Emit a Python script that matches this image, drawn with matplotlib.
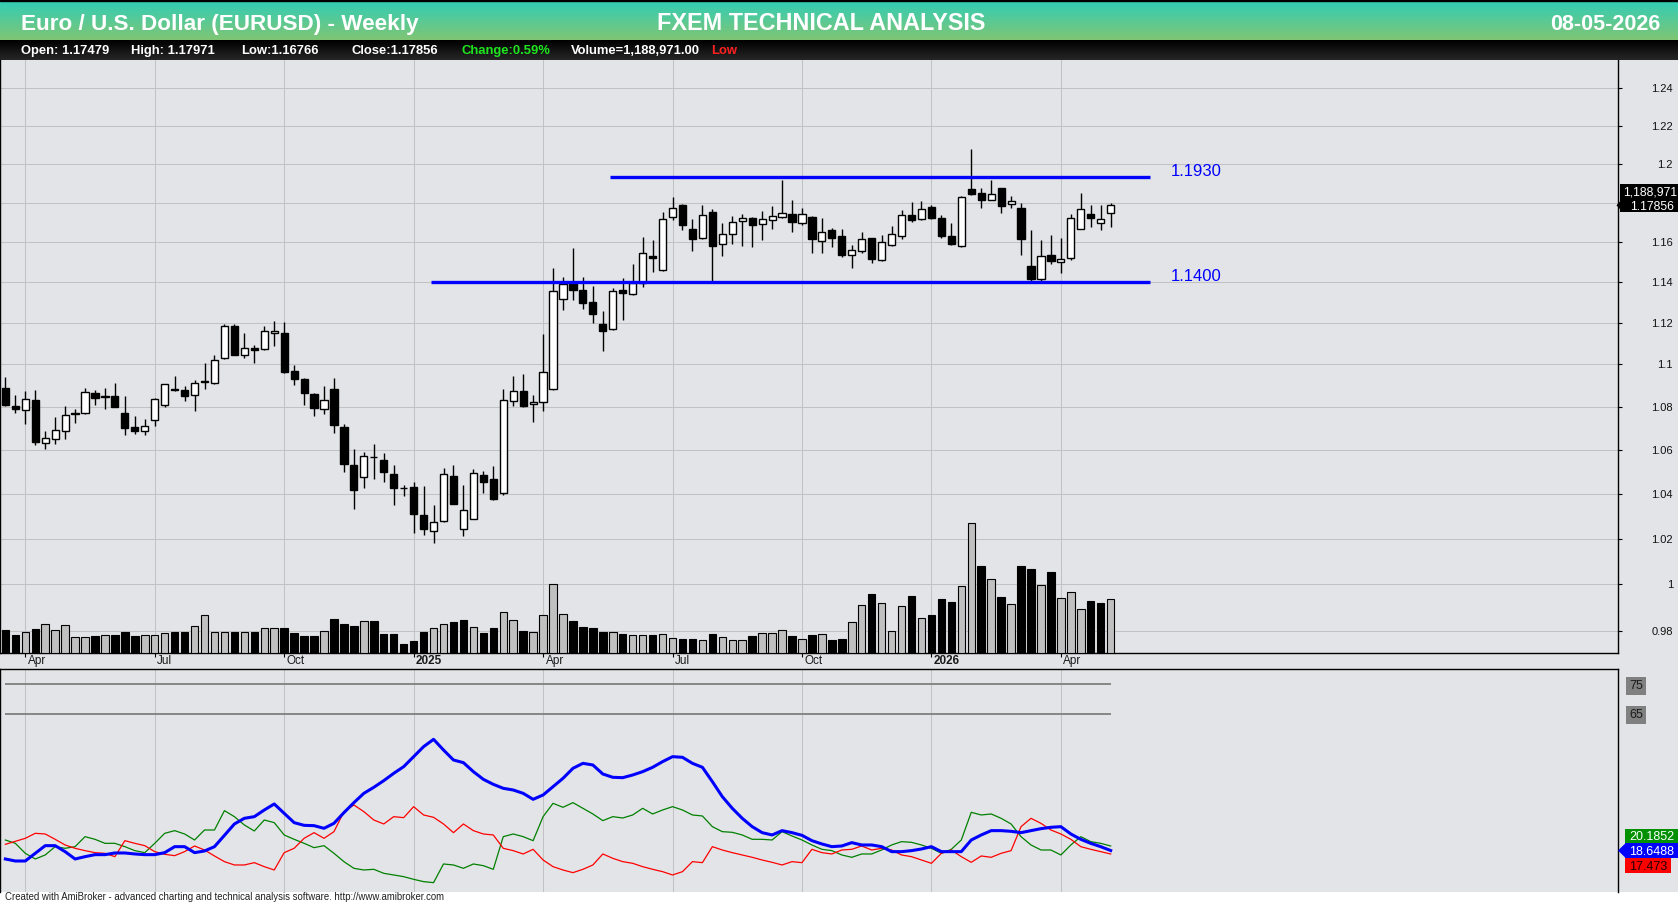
import numpy as np
import pandas as pd
import matplotlib
matplotlib.use("Agg")
import matplotlib.pyplot as plt
from matplotlib.patches import Rectangle, Polygon
from matplotlib.ticker import NullLocator

plt.rcParams['font.family'] = ['Liberation Sans', 'DejaVu Sans']

# ---- data (weekly EURUSD bars, week ending Friday) ----
symbol_title = "Euro / U.S. Dollar (EURUSD) - Weekly"
brand_title = "FXEM TECHNICAL ANALYSIS"
chart_date = "08-05-2026"
first_week = "2024-03-22"

opens = [1.0890, 1.0805, 1.0786, 1.0833, 1.0633, 1.0651, 1.0688, 1.0770, 1.0771, 1.0867,
         1.0849, 1.0849, 1.0769, 1.0704, 1.0688, 1.0740, 1.0807, 1.0885, 1.0881, 1.0856,
         1.0920, 1.0914, 1.1029, 1.1186, 1.1043, 1.1081, 1.1075, 1.1152, 1.1152, 1.0967,
         1.0930, 1.0862, 1.0788, 1.0882, 1.0708, 1.0530, 1.0476, 1.0566, 1.0556, 1.0489,
         1.0428, 1.0431, 1.0305, 1.0236, 1.0280, 1.0480, 1.0241, 1.0289, 1.0484, 1.0467,
         1.0404, 1.0827, 1.0875, 1.0813, 1.0822, 1.0885, 1.1316, 1.1393, 1.1359, 1.1300,
         1.1197, 1.1170, 1.1359, 1.1339, 1.1393, 1.1530, 1.1460, 1.1728, 1.1785, 1.1666,
         1.1619, 1.1753, 1.1589, 1.1640, 1.1707, 1.1722, 1.1691, 1.1712, 1.1728, 1.1743,
         1.1697, 1.1724, 1.1603, 1.1662, 1.1629, 1.1535, 1.1554, 1.1619, 1.1511, 1.1584,
         1.1628, 1.1738, 1.1716, 1.1776, 1.1722, 1.1629, 1.1578, 1.1867, 1.1851, 1.1815,
         1.1872, 1.1790, 1.1774, 1.1481, 1.1415, 1.1536, 1.1502, 1.1520, 1.1666, 1.1740,
         1.1697, 1.17479]
highs = [1.0938, 1.0857, 1.0873, 1.0881, 1.0685, 1.0750, 1.0805, 1.0788, 1.0890, 1.0881,
         1.0887, 1.0911, 1.0849, 1.0755, 1.0741, 1.0841, 1.0908, 1.0944, 1.0900, 1.0924,
         1.1006, 1.1043, 1.1195, 1.1195, 1.1152, 1.1095, 1.1186, 1.1210, 1.1205, 1.0997,
         1.0936, 1.0867, 1.0899, 1.0934, 1.0722, 1.0605, 1.0591, 1.0625, 1.0588, 1.0530,
         1.0440, 1.0455, 1.0436, 1.0350, 1.0516, 1.0529, 1.0440, 1.0511, 1.0504, 1.0526,
         1.0885, 1.0944, 1.0954, 1.0853, 1.1144, 1.1470, 1.1423, 1.1569, 1.1423, 1.1379,
         1.1259, 1.1370, 1.1420, 1.1490, 1.1624, 1.1612, 1.1750, 1.1826, 1.1791, 1.1717,
         1.1785, 1.1766, 1.1698, 1.1729, 1.1740, 1.1724, 1.1757, 1.1783, 1.1915, 1.1815,
         1.1774, 1.1729, 1.1722, 1.1671, 1.1666, 1.1585, 1.1652, 1.1621, 1.1636, 1.1678,
         1.1760, 1.1803, 1.1807, 1.1786, 1.1738, 1.1695, 1.1832, 1.2077, 1.1872, 1.1915,
         1.1874, 1.1832, 1.1797, 1.1662, 1.1610, 1.1636, 1.1621, 1.1740, 1.1848, 1.1788,
         1.1786, 1.17971]
lows = [1.0802, 1.0770, 1.0722, 1.0623, 1.0603, 1.0626, 1.0650, 1.0724, 1.0764, 1.0808,
        1.0789, 1.0798, 1.0668, 1.0674, 1.0668, 1.0711, 1.0800, 1.0875, 1.0827, 1.0779,
        1.0884, 1.0905, 1.1025, 1.1045, 1.1032, 1.1008, 1.1070, 1.1089, 1.0959, 1.0903,
        1.0810, 1.0758, 1.0768, 1.0680, 1.0499, 1.0333, 1.0428, 1.0465, 1.0455, 1.0348,
        1.0389, 1.0226, 1.0217, 1.0180, 1.0273, 1.0353, 1.0211, 1.0287, 1.0406, 1.0371,
        1.0395, 1.0806, 1.0798, 1.0730, 1.0778, 1.0880, 1.1265, 1.1311, 1.1269, 1.1200,
        1.1066, 1.1165, 1.1215, 1.1336, 1.1376, 1.1452, 1.1455, 1.1712, 1.1662, 1.1557,
        1.1615, 1.1398, 1.1528, 1.1592, 1.1582, 1.1574, 1.1612, 1.1664, 1.1722, 1.1648,
        1.1685, 1.1543, 1.1543, 1.1576, 1.1524, 1.1470, 1.1543, 1.1494, 1.1504, 1.1582,
        1.1617, 1.1703, 1.1709, 1.1717, 1.1619, 1.1585, 1.1576, 1.1841, 1.1772, 1.1813,
        1.1747, 1.1772, 1.1533, 1.1400, 1.1405, 1.1489, 1.1446, 1.1510, 1.1665, 1.1674,
        1.1659, 1.16766]
closes = [1.0808, 1.0789, 1.0838, 1.0636, 1.0656, 1.0693, 1.0763, 1.0766, 1.0871, 1.0841,
          1.0846, 1.0798, 1.0701, 1.0688, 1.0712, 1.0835, 1.0905, 1.0880, 1.0851, 1.0910,
          1.0916, 1.1019, 1.1186, 1.1046, 1.1081, 1.1070, 1.1162, 1.1162, 1.0965, 1.0932,
          1.0864, 1.0792, 1.0832, 1.0714, 1.0536, 1.0416, 1.0573, 1.0568, 1.0501, 1.0428,
          1.0427, 1.0308, 1.0244, 1.0273, 1.0489, 1.0356, 1.0327, 1.0493, 1.0452, 1.0376,
          1.0832, 1.0875, 1.0806, 1.0822, 1.0962, 1.1356, 1.1390, 1.1362, 1.1298, 1.1244,
          1.1159, 1.1354, 1.1344, 1.1393, 1.1545, 1.1519, 1.1717, 1.1774, 1.1685, 1.1617,
          1.1738, 1.1582, 1.1640, 1.1702, 1.1721, 1.1685, 1.1717, 1.1733, 1.1748, 1.1700,
          1.1743, 1.1617, 1.1650, 1.1622, 1.1533, 1.1559, 1.1614, 1.1514, 1.1598, 1.1640,
          1.1738, 1.1710, 1.1769, 1.1721, 1.1628, 1.1592, 1.1826, 1.1846, 1.1814, 1.1846,
          1.1783, 1.1810, 1.1617, 1.1415, 1.1530, 1.1505, 1.1514, 1.1722, 1.1769, 1.1720,
          1.17166, 1.17856]
volumes = [513000, 403000, 469000, 535000, 645000, 506000, 617000, 352000, 352000, 381000,
           396000, 396000, 469000, 381000, 396000, 396000, 440000, 469000, 469000, 594000,
           843000, 469000, 469000, 469000, 469000, 469000, 550000, 550000, 557000, 447000,
           381000, 381000, 484000, 755000, 639000, 610000, 705000, 711000, 425000, 425000,
           205000, 271000, 469000, 550000, 639000, 689000, 733000, 572000, 456000, 557000,
           903000, 727000, 491000, 469000, 837000, 1519000, 859000, 711000, 579000, 557000,
           469000, 469000, 425000, 396000, 396000, 396000, 418000, 337000, 308000, 308000,
           286000, 425000, 352000, 286000, 286000, 381000, 440000, 440000, 506000, 381000,
           308000, 403000, 418000, 293000, 315000, 683000, 1057000, 1306000, 1101000, 491000,
           1041000, 1262000, 771000, 843000, 1196000, 1130000, 1475000, 2862000, 1922000, 1629000,
           1240000, 1086000, 1922000, 1856000, 1504000, 1790000, 1211000, 1343000, 969000, 1152000,
           1108000, 1188971]

# ADX / +DI / -DI panel
adx = [15.78, 15.10, 15.10, 17.70, 20.30, 20.30, 18.27, 15.78, 16.57, 17.25,
       17.25, 17.82, 17.82, 17.48, 17.25, 17.25, 17.93, 19.96, 19.96, 17.93,
       18.50, 19.96, 23.80, 27.65, 29.57, 30.13, 32.39, 34.43, 31.26, 28.10,
       27.19, 27.08, 26.18, 27.87, 31.49, 34.88, 38.04, 40.08, 42.34, 44.82,
       47.08, 50.47, 53.86, 56.35, 52.73, 49.34, 48.44, 45.39, 42.79, 41.09,
       39.74, 39.17, 38.04, 36.01, 37.48, 40.30, 43.13, 46.52, 48.21, 47.65,
       44.59, 43.47, 43.35, 44.26, 45.39, 46.86, 48.78, 50.47, 50.25, 48.21,
       46.86, 42.00, 36.91, 32.96, 29.57, 26.74, 24.71, 23.92, 25.39, 24.71,
       23.80, 21.99, 20.87, 19.96, 20.19, 21.32, 20.53, 20.53, 19.96, 18.27,
       18.27, 18.61, 19.17, 19.96, 18.27, 18.27, 18.27, 22.22, 23.92, 25.39,
       25.39, 25.16, 24.71, 25.39, 26.06, 26.52, 26.74, 24.26, 22.45, 21.08,
       19.96, 18.6488]
plus_di = [22.22, 21.09, 17.70, 15.78, 17.14, 19.96, 19.40, 19.96, 23.35, 22.45,
           21.09, 21.09, 19.96, 18.61, 17.93, 21.09, 24.48, 25.39, 24.26, 22.22,
           25.61, 25.61, 32.17, 30.13, 27.31, 25.27, 29.00, 28.10, 23.92, 22.45,
           21.09, 19.62, 20.30, 17.70, 14.88, 12.62, 12.05, 12.28, 10.92, 10.36,
           9.79, 8.89, 8.10, 7.76, 14.09, 13.75, 12.62, 14.09, 13.52, 12.28,
           23.35, 24.26, 23.35, 21.99, 30.13, 34.65, 33.30, 34.88, 32.96, 31.04,
           28.78, 30.13, 29.68, 30.70, 32.96, 31.04, 32.39, 33.52, 32.39, 30.70,
           30.36, 26.74, 25.05, 24.82, 23.92, 22.45, 22.45, 22.22, 25.05, 23.58,
           22.22, 20.53, 19.06, 18.61, 17.14, 16.35, 17.48, 17.48, 18.83, 20.53,
           21.66, 21.43, 20.53, 19.40, 17.70, 19.06, 22.22, 31.60, 30.70, 31.04,
           29.57, 27.65, 23.35, 20.53, 18.83, 18.83, 17.14, 20.53, 23.35, 21.66,
           21.09, 20.1852]
minus_di = [20.75, 21.77, 22.79, 24.48, 24.26, 22.45, 20.53, 19.40, 18.61, 17.93,
            17.70, 16.57, 21.99, 21.09, 20.30, 18.27, 17.37, 16.91, 18.27, 20.19,
            18.83, 16.80, 14.88, 13.75, 13.75, 14.54, 13.18, 12.05, 17.93, 19.40,
            22.79, 24.71, 22.79, 25.05, 31.83, 34.09, 31.83, 29.00, 27.65, 30.13,
            29.79, 33.52, 30.70, 29.91, 27.65, 24.71, 27.65, 25.39, 24.26, 23.92,
            19.40, 18.61, 17.48, 19.06, 15.44, 13.18, 12.05, 11.15, 12.28, 13.75,
            17.48, 16.01, 14.88, 14.31, 13.18, 12.28, 11.49, 10.36, 11.49, 14.88,
            14.54, 19.96, 18.83, 17.93, 17.14, 16.35, 15.44, 14.65, 13.75, 14.88,
            14.54, 19.06, 17.93, 17.48, 18.83, 19.06, 20.19, 18.83, 19.40, 18.83,
            17.14, 16.57, 15.44, 14.31, 17.70, 18.83, 16.57, 14.65, 16.80, 16.35,
            17.70, 18.61, 26.74, 29.57, 27.87, 25.61, 24.26, 22.45, 19.96, 19.06,
            18.27, 17.473]
osc_levels = [75, 65]

# drawn channel lines
resistance = 1.1930
support = 1.1400
resistance_from = "2025-05-23"
support_from = "2025-01-17"
lines_to = "2026-06-05"

price_ticks = [0.98, 1.00, 1.02, 1.04, 1.06, 1.08, 1.10, 1.12, 1.14, 1.16, 1.18, 1.20, 1.22, 1.24]

# ---- layout helpers (pixel based) ----
W, H = 1678, 905
BG = "#E3E4E7"
GRID = "#C2C2C2"
PX_R = 1617.5          # right edge of the plot panels
TOP_Y, VOL_Y = 60, 653.3
OSC_TOP, OSC_BOT = 669, 891.7


def fx(px):
    return px / W


def fy(py):
    return 1 - py / H


o, h, l, c = (np.array(a) for a in (opens, highs, lows, closes))
vol = np.array(volumes)
n = len(c)
x = np.arange(n)
weeks = pd.date_range(first_week, periods=n, freq="W-FRI")


def bar_of(d):
    return (pd.Timestamp(d) - weeks[0]).days / 7


# first bar of each quarter -> grid + labels
quarters = [i for i in range(1, n) if weeks[i].month != weeks[i - 1].month and weeks[i].month in (1, 4, 7, 10)]

fig = plt.figure(figsize=(W / 100, H / 100), dpi=100, facecolor="white")
fig.add_artist(Rectangle((0, fy(OSC_BOT)), 1, (OSC_BOT - TOP_Y) / H, transform=fig.transFigure,
                         facecolor=BG, edgecolor="none", zorder=-10))

# header gradient
hdr = fig.add_axes([0, fy(40), 1, 40 / H])
t = np.linspace(0, 1, 64)[:, None, None]
c_top = np.array([0x30, 0xCE, 0xB8]) / 255
c_bot = np.array([0x80, 0xC5, 0x74]) / 255
hdr.imshow(c_top + (c_bot - c_top) * t, aspect="auto", extent=(0, 1, 0, 1))
hdr.set_axis_off()
fig.add_artist(Rectangle((0, fy(1.5)), 1, 1.5 / H, transform=fig.transFigure, color="black"))

info = fig.add_axes([0, fy(60), 1, 20 / H])
g = np.linspace(0.0, 0.15, 32)[:, None, None] * np.ones(3)
info.imshow(g, aspect="auto", extent=(0, 1, 0, 1))
info.set_axis_off()

fig.text(fx(21), fy(30), symbol_title, color="white", fontsize=16.2, fontweight="bold", va="baseline")
fig.text(fx(821), fy(29.5), brand_title, color="white", fontsize=16.8, fontweight="bold", va="baseline", ha="center")
fig.text(fx(1660), fy(29.5), chart_date, color="white", fontsize=15.5, fontweight="bold", va="baseline", ha="right")

change = (c[-1] / c[-2] - 1) * 100
info_items = [(21, f"Open: {o[-1]:.5f}", "white"),
              (131, f"High: {h[-1]:.5f}", "white"),
              (241, f"Low:{l[-1]:.5f}", "white"),
              (351, f"Close:{c[-1]:.5f}", "white"),
              (461, f"Change:{change:.2f}%", "#1EE61E"),
              (571, f"Volume={vol[-1]:,.2f}", "white"),
              (711, "Low", "#FF2020")]
for px, s, col in info_items:
    fig.text(fx(px), fy(54), s, color=col, fontsize=9.4, fontweight="bold", va="baseline")

# ---- price panel ----
ax = fig.add_axes([0, fy(VOL_Y), PX_R / W, (VOL_Y - TOP_Y) / H])
ax.set_facecolor(BG)
axv = ax.twinx()

for lv in price_ticks:
    ax.axhline(lv, color=GRID, lw=0.75, zorder=0)
for q in quarters:
    ax.axvline(q, color=GRID, lw=0.75, zorder=0)

# volume (gray = close up vs previous close)
prev = np.concatenate([[o[0]], c[:-1]])
vcol = np.where(c >= prev, "#C0C0C0", "black")
axv.bar(x, vol, width=0.75, color=vcol, edgecolor="black", linewidth=0.8)
axv.set_ylim(0, vol.max() * 4.56)
axv.set_axis_off()

# candles
up = c >= o
ax.vlines(x, l, h, color="black", lw=1.0, zorder=3)
ax.bar(x, np.abs(c - o), bottom=np.minimum(o, c), width=0.72,
       color=np.where(up, "white", "black"), edgecolor="black", linewidth=1.0, zorder=4)

# channel
end_x = bar_of(lines_to)
for lv, start in ((resistance, resistance_from), (support, support_from)):
    ax.hlines(lv, bar_of(start) - 0.3, end_x, color="#0000FF", lw=2.4, zorder=5)
    ax.annotate(f"{lv:.4f}", (end_x + 2, lv), xytext=(0, 4), textcoords="offset points",
                color="#0000FF", fontsize=12, va="center", ha="left")

ax.set_yscale("log")
ax.set_xlim(-0.54, 161.9)
ax.set_ylim(0.97054, 1.2552)
ax.yaxis.tick_right()
ax.set_yticks(price_ticks)
ax.yaxis.set_minor_locator(NullLocator())
ax.set_xticks(quarters)
ax.tick_params(axis="y", which="both", direction="out", length=3, width=0.8, labelright=False, labelleft=False)
ax.tick_params(axis="x", direction="out", length=3, width=0.8, labelbottom=False)
ax.spines["top"].set_visible(False)
for s in ("left", "right", "bottom"):
    ax.spines[s].set_color("black")
    ax.spines[s].set_linewidth(1.0)

# last close / volume tag on the right scale
yc = H - ax.transData.transform((0, c[-1]))[1]

for lv in price_ticks:
    ly = H - ax.transData.transform((0, lv))[1]
    if yc - 24 < ly < yc + 10:      # hidden behind the close tag
        continue
    ax.text(1673 / PX_R, lv, f"{lv:g}", transform=ax.get_yaxis_transform(), fontsize=8,
            color="#111111", ha="right", va="center_baseline", clip_on=False)

# date labels in the strip below the price panel
for q in quarters:
    is_year = weeks[q].month == 1
    lab = str(weeks[q].year) if is_year else weeks[q].strftime("%b")
    ax.text(q + 0.25, -(664 - VOL_Y) / (VOL_Y - TOP_Y), lab, transform=ax.get_xaxis_transform(),
            fontsize=8.5, fontweight="bold" if is_year else "normal", color="#1A1A1A",
            ha="left", va="baseline", clip_on=False)

fig.add_artist(Rectangle((fx(1620), fy(yc + 7)), (W - 1620) / W, 28 / H, transform=fig.transFigure,
                         facecolor="black", edgecolor="none", zorder=10))
fig.add_artist(Polygon([(fx(1616.5), fy(yc)), (fx(1621), fy(yc - 5)), (fx(1621), fy(yc + 5))],
                       closed=True, transform=fig.transFigure, facecolor="black", edgecolor="none", zorder=10))
fig.text(fx(1623), fy(yc - 14.3), f"{vol[-1]:,}", color="white", fontsize=8.8, va="center_baseline", zorder=11)
fig.text(fx(1674), fy(yc), f"{c[-1]:.5f}", color="white", fontsize=8.8, ha="right", va="center_baseline", zorder=11)

# ---- ADX panel ----
ax2 = fig.add_axes([0, fy(OSC_BOT), PX_R / W, (OSC_BOT - OSC_TOP) / H])
ax2.set_facecolor(BG)
for q in quarters:
    ax2.axvline(q, color=GRID, lw=0.75, zorder=0)
ax2.hlines(osc_levels, x[0], x[-1], color="#7F7F7F", lw=1.3)
ax2.plot(x, plus_di, color="#008000", lw=0.9)
ax2.plot(x, minus_di, color="#FF0000", lw=0.9)
ax2.plot(x, adx, color="#0000FF", lw=2.2)
ax2.set_xlim(-0.54, 161.9)
ax2.set_ylim(4.69, 80.19)
ax2.set_xticks([])
ax2.set_yticks([])
ax2.spines["bottom"].set_visible(False)
for s in ("left", "right", "top"):
    ax2.spines[s].set_color("black")
    ax2.spines[s].set_linewidth(1.0)

for lv in osc_levels:
    ax2.text(1629 / PX_R, lv, f"{lv:g}", transform=ax2.get_yaxis_transform(), fontsize=9,
             color="#1A1A1A", ha="left", va="center_baseline", clip_on=False,
             bbox=dict(boxstyle="square,pad=0.25", facecolor="#808080", edgecolor="none"))

yb = H - ax2.transData.transform((0, adx[-1]))[1]
tags = [(yb - 14.7, plus_di[-1], "#009000", "white", 1678),
        (yb, adx[-1], "#0000FF", "white", 1678),
        (yb + 14.7, minus_di[-1], "#FF0000", "#220000", 1671)]
for ty, val, bgc, fgc, x1 in tags:
    fig.add_artist(Rectangle((fx(1625), fy(ty + 7.3)), (x1 - 1625) / W, 14.6 / H, transform=fig.transFigure,
                             facecolor=bgc, edgecolor="none", zorder=10))
    fig.text(fx(1629), fy(ty), f"{val:g}", color=fgc, fontsize=9, va="center_baseline", zorder=11)
fig.add_artist(Polygon([(fx(1618), fy(yb)), (fx(1625.5), fy(yb - 7.3)), (fx(1625.5), fy(yb + 7.3))],
                       closed=True, transform=fig.transFigure, facecolor="#0000FF", edgecolor="none", zorder=10))

fig.text(fx(5), fy(899.5), "Created with AmiBroker - advanced charting and technical analysis software. http://www.amibroker.com",
         fontsize=6.9, color="#202020", va="baseline")

fig.savefig("out.png", dpi=100, facecolor=fig.get_facecolor())
